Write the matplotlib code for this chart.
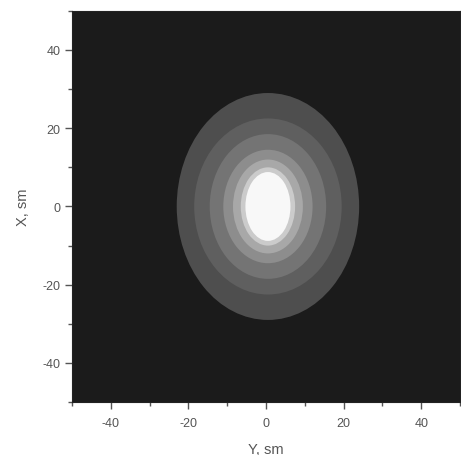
import matplotlib
matplotlib.use("Agg")
import matplotlib.pyplot as plt
from matplotlib.patches import Ellipse
from matplotlib.ticker import MultipleLocator

plt.rcParams['font.family'] = ['Liberation Sans', 'DejaVu Sans']
plt.rcParams['axes.unicode_minus'] = False

# contour bands, outer -> inner
# half width along Y (horizontal) and half height along X (vertical), in sm
band_half_y = [23.5, 19.0, 15.0, 11.5, 9.0, 7.0, 5.8]
band_half_x = [29.0, 22.5, 18.5, 14.5, 12.0, 10.0, 8.8]
band_gray = ['#4e4e4e', '#5f5f5f', '#747474', '#8d8d8d', '#a8a8a8', '#cbcbcb', '#f8f8f8']
center_y = 0.5
center_x = 0.0

y_ticks = [-40, -20, 0, 20, 40]
x_ticks = [-40, -20, 0, 20, 40]

fig = plt.figure(figsize=(4.61, 4.56), dpi=100)
ax = fig.add_axes([0.156, 0.116, 0.842, 0.858])
ax.set_facecolor('#1b1b1b')

for hy, hx, col in zip(band_half_y, band_half_x, band_gray):
    ax.add_patch(Ellipse((center_y, center_x), 2 * hy, 2 * hx,
                         facecolor=col, edgecolor='none'))

ax.set_xlim(-50, 50)
ax.set_ylim(-50, 50)
ax.set_xticks(x_ticks)
ax.set_yticks(y_ticks)
ax.xaxis.set_minor_locator(MultipleLocator(10))
ax.yaxis.set_minor_locator(MultipleLocator(10))
ax.tick_params(which='major', direction='out', length=5, width=1,
               color='#555555', labelcolor='#555555', labelsize=9, pad=3)
ax.tick_params(axis='x', which='major', pad=6)
ax.tick_params(which='minor', direction='out', length=3, width=1, color='#555555')
for s in ax.spines.values():
    s.set_color('#222222')

ax.set_xlabel('Y, sm', fontsize=10.5, color='#555555', labelpad=9)
ax.set_ylabel('X, sm', fontsize=10.5, color='#555555', labelpad=9)

fig.savefig('out.png', dpi=100)
